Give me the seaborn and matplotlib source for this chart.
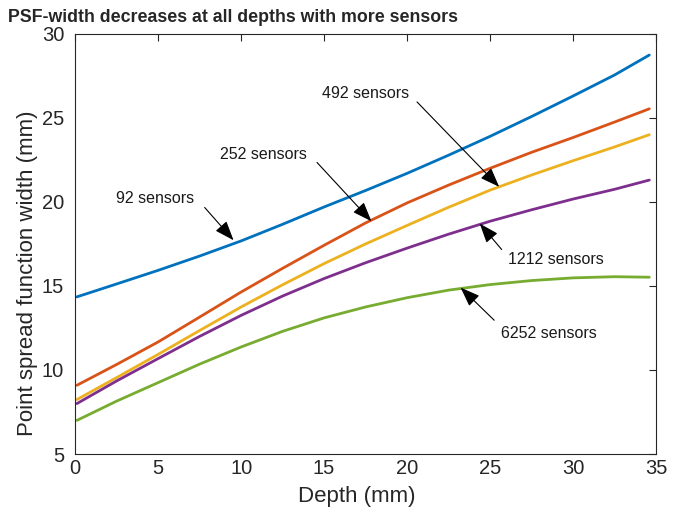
import seaborn as sns
import matplotlib.pyplot as plt
import pandas as pd

# depth samples (mm) and PSF width for each sensor count
depth = [0.1, 2.5, 5, 7.5, 10, 12.5, 15, 17.5, 20, 22.5, 25, 27.5, 30, 32.5, 34.6]
w92 = [14.35, 15.12, 15.93, 16.78, 17.68, 18.67, 19.7, 20.68, 21.7, 22.78, 23.9, 25.08, 26.3, 27.55, 28.74]
w252 = [9.09, 10.33, 11.67, 13.15, 14.64, 16.05, 17.42, 18.75, 19.94, 21.0, 22.0, 22.95, 23.83, 24.75, 25.54]
w492 = [8.24, 9.55, 10.93, 12.35, 13.75, 15.07, 16.33, 17.5, 18.6, 19.68, 20.7, 21.6, 22.45, 23.27, 24.0]
w1212 = [8.0, 9.35, 10.68, 12.0, 13.25, 14.4, 15.44, 16.38, 17.25, 18.08, 18.85, 19.53, 20.17, 20.75, 21.3]
w6252 = [7.0, 8.15, 9.25, 10.35, 11.37, 12.3, 13.1, 13.75, 14.3, 14.75, 15.08, 15.32, 15.48, 15.55, 15.52]

labels = ['92 sensors', '252 sensors', '492 sensors', '1212 sensors', '6252 sensors']
colors = ['#0072BD', '#D95319', '#EDB120', '#7E2F8E', '#77AC30']

# annotation: text position, arrow tail, arrow tip (data coords)
notes = [
    ((4.8, 20.2), (7.8, 19.67), (9.54, 17.72)),
    ((11.35, 22.84), (14.57, 22.35), (17.85, 18.85)),
    ((17.5, 26.46), (20.6, 25.95), (25.55, 20.9)),
    ((28.97, 16.57), (25.7, 17.17), (24.38, 18.71)),
    ((28.53, 12.2), (25.25, 12.96), (23.23, 14.9)),
]


def build_frame():
    series = [w92, w252, w492, w1212, w6252]
    rows = []
    for lab, vals in zip(labels, series):
        for d, v in zip(depth, vals):
            rows.append({'depth': d, 'width': v, 'sensors': lab})
    return pd.DataFrame(rows)


def draw(df):
    sns.set_style('white')
    plt.rcParams['font.family'] = ['Liberation Sans', 'DejaVu Sans']

    fig = plt.figure(figsize=(6.84, 5.13), dpi=100)
    ax = fig.add_axes([0.110, 0.115, 0.849, 0.819])

    sns.lineplot(data=df, x='depth', y='width', hue='sensors',
                 palette=dict(zip(labels, colors)), linewidth=2,
                 legend=False, ax=ax)

    for lab, (txt, tail, tip) in zip(labels, notes):
        ax.text(txt[0], txt[1], lab, ha='center', va='center', fontsize=11.5,
                color='#1a1a1a')
        ax.annotate('', xy=tip, xytext=tail,
                    arrowprops=dict(arrowstyle='-|>,head_length=0.8,head_width=0.3',
                                    mutation_scale=15, color='black', lw=0.8,
                                    shrinkA=0, shrinkB=0))

    ax.set_xlim(0, 35)
    ax.set_ylim(5, 30)
    ax.set_xticks(range(0, 36, 5))
    ax.set_yticks(range(5, 31, 5))
    ax.tick_params(direction='in', length=5, width=0.8, colors='#262626',
                   labelsize=14.5, top=True, right=True, labelcolor='#262626')
    ax.tick_params(axis='y', pad=8)
    for s in ax.spines.values():
        s.set_color('#262626')
        s.set_linewidth(0.8)

    ax.set_xlabel('Depth (mm)', fontsize=16, color='#262626')
    ax.set_ylabel('Point spread function width (mm)', fontsize=16, color='#262626')
    ax.xaxis.label.set_va('center')
    ax.yaxis.label.set_va('center')
    ax.xaxis.set_label_coords(0.484, -0.1)
    ax.yaxis.set_label_coords(-0.082, 0.43)

    fig.text(0.012, 1 - 17 / 513, 'PSF-width decreases at all depths with more sensors',
             ha='left', va='center', fontsize=12.8, fontweight='bold')

    fig.savefig('out.png', dpi=100)


if __name__ == "__main__":
    df = build_frame()
    draw(df)
